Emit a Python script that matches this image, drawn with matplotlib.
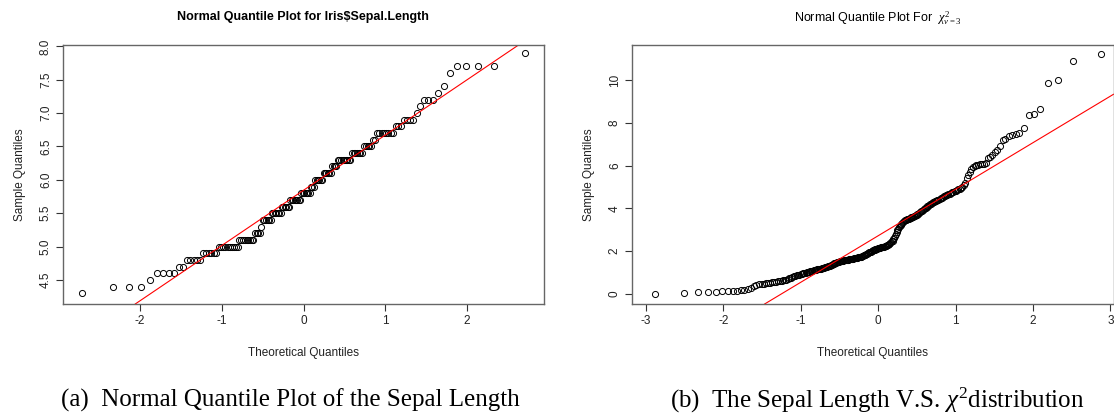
import numpy as np
import matplotlib
matplotlib.use("Agg")
import matplotlib.pyplot as plt
from statistics import NormalDist

# iris Sepal.Length: distinct values and how often each occurs
sepal_values = [4.3, 4.4, 4.5, 4.6, 4.7, 4.8, 4.9, 5.0, 5.1, 5.2, 5.3, 5.4, 5.5, 5.6,
                5.7, 5.8, 5.9, 6.0, 6.1, 6.2, 6.3, 6.4, 6.5, 6.6, 6.7, 6.8, 6.9, 7.0,
                7.1, 7.2, 7.3, 7.4, 7.6, 7.7, 7.9]
sepal_counts = [1, 3, 1, 4, 2, 5, 6, 10, 9, 4, 1, 6, 7, 6,
                8, 7, 3, 6, 6, 4, 9, 7, 5, 2, 8, 3, 4, 1,
                1, 3, 1, 1, 1, 4, 1]

# sorted chi-square sample (n = 250)
chi_sample = [
    0.02, 0.03, 0.07, 0.08, 0.10, 0.12, 0.13, 0.14, 0.16, 0.18,
    0.20, 0.23, 0.30, 0.38, 0.43, 0.45, 0.47, 0.48, 0.50, 0.52,
    0.53, 0.54, 0.56, 0.57, 0.59, 0.60, 0.62, 0.64, 0.65, 0.67,
    0.70, 0.73, 0.76, 0.79, 0.82, 0.85, 0.87, 0.89, 0.91, 0.93,
    0.95, 0.96, 0.98, 0.99, 1.01, 1.03, 1.05, 1.06, 1.08, 1.09,
    1.10, 1.12, 1.13, 1.15, 1.16, 1.17, 1.18, 1.19, 1.20, 1.21,
    1.22, 1.24, 1.25, 1.27, 1.29, 1.31, 1.33, 1.35, 1.37, 1.39,
    1.41, 1.43, 1.44, 1.46, 1.48, 1.49, 1.50, 1.52, 1.53, 1.54,
    1.55, 1.56, 1.57, 1.58, 1.59, 1.60, 1.61, 1.61, 1.62, 1.62,
    1.63, 1.64, 1.64, 1.65, 1.66, 1.67, 1.68, 1.69, 1.70, 1.71,
    1.72, 1.73, 1.74, 1.75, 1.76, 1.78, 1.80, 1.82, 1.84, 1.86,
    1.88, 1.90, 1.92, 1.94, 1.96, 1.98, 2.00, 2.02, 2.04, 2.06,
    2.08, 2.09, 2.11, 2.12, 2.14, 2.15, 2.16, 2.17, 2.18, 2.19,
    2.20, 2.21, 2.22, 2.23, 2.24, 2.25, 2.27, 2.29, 2.32, 2.35,
    2.38, 2.42, 2.46, 2.50, 2.55, 2.62, 2.70, 2.79, 2.88, 2.98,
    3.06, 3.13, 3.19, 3.24, 3.28, 3.32, 3.36, 3.40, 3.44, 3.46,
    3.48, 3.50, 3.52, 3.53, 3.54, 3.56, 3.58, 3.60, 3.62, 3.64,
    3.66, 3.68, 3.70, 3.73, 3.76, 3.80, 3.83, 3.86, 3.90, 3.93,
    3.96, 4.00, 4.04, 4.07, 4.10, 4.13, 4.17, 4.20, 4.23, 4.27,
    4.29, 4.32, 4.34, 4.37, 4.39, 4.42, 4.45, 4.48, 4.51, 4.54,
    4.57, 4.60, 4.62, 4.65, 4.68, 4.70, 4.73, 4.76, 4.78, 4.81,
    4.84, 4.87, 4.90, 4.93, 4.97, 5.02, 5.08, 5.20, 5.42, 5.55,
    5.72, 5.85, 5.95, 6.00, 6.02, 6.05, 6.06, 6.07, 6.08, 6.12,
    6.35, 6.42, 6.52, 6.62, 6.75, 6.92, 7.20, 7.27, 7.40, 7.46,
    7.48, 7.53, 7.78, 8.39, 8.40, 8.64, 9.86, 10.03, 10.90, 11.22,
]

left_yticks = [4.5, 5.0, 5.5, 6.0, 6.5, 7.0, 7.5, 8.0]
left_xticks = [-2, -1, 0, 1, 2]
right_yticks = [0, 2, 4, 6, 8, 10]
right_xticks = [-3, -2, -1, 0, 1, 2, 3]

plt.rcParams["font.family"] = ["Liberation Sans", "DejaVu Sans"]
plt.rcParams["axes.unicode_minus"] = False
plt.rcParams["mathtext.fontset"] = "custom"
plt.rcParams["mathtext.rm"] = "Liberation Serif"
plt.rcParams["mathtext.it"] = "Liberation Serif:italic"

W, H = 1114, 420
fig = plt.figure(figsize=(W / 100, H / 100), dpi=100)


def px_axes(left, right, top, bottom):
    return fig.add_axes([left / W, 1 - bottom / H, (right - left) / W, (bottom - top) / H])


def qq(ax, values, line="quartile"):
    y = np.sort(np.asarray(values, dtype=float))
    n = len(y)
    a = 3 / 8 if n <= 10 else 0.5
    p = (np.arange(1, n + 1) - a) / (n + 1 - 2 * a)
    nd = NormalDist()
    x = np.array([nd.inv_cdf(v) for v in p])
    ax.plot(x, y, linestyle="none", marker="o", markersize=4.4,
            markerfacecolor="none", markeredgecolor="black", markeredgewidth=0.7)
    if line == "meansd":
        # reference line: mean + sd * z
        m, s = y.mean(), y.std(ddof=1)
        ax.axline((0, m), slope=s, color="red", linewidth=0.8)
    else:
        q1, q3 = np.quantile(y, [0.25, 0.75])
        x1, x3 = nd.inv_cdf(0.25), nd.inv_cdf(0.75)
        ax.axline((x1, q1), (x3, q3), color="red", linewidth=0.8)


def style(ax, xticks, yticks, fmt):
    for s in ax.spines.values():
        s.set_color("#666666")
        s.set_linewidth(1.0)
    ax.set_xticks(xticks)
    ax.set_yticks(yticks)
    ax.set_yticklabels([fmt.format(v) for v in yticks], rotation=90, va="center")
    ax.tick_params(direction="out", length=5, width=0.8, color="#333333",
                   labelsize=8.5, labelcolor="#222222", pad=3)
    ax.set_xlabel("Theoretical Quantiles", fontsize=8.5, color="#222222", labelpad=14)
    ax.set_ylabel("Sample Quantiles", fontsize=8.5, color="#222222", labelpad=10)


# left panel
ax1 = px_axes(63, 544, 45, 304)
qq(ax1, np.repeat(sepal_values, sepal_counts), line="meansd")
ax1.set_xlim(-2.94, 2.94)
ax1.set_ylim(4.14, 8.02)
style(ax1, left_xticks, left_yticks, "{:.1f}")
fig.text(303 / W, 1 - 17 / H, r"Normal Quantile Plot for Iris\$Sepal.Length",
         ha="center", va="center", fontsize=9, fontweight="bold")

# right panel
ax2 = px_axes(632, 1113.5, 45, 304)
qq(ax2, chi_sample)
ax2.set_xlim(-3.18, 3.04)
ax2.set_ylim(-0.47, 11.65)
style(ax2, right_xticks, right_yticks, "{:g}")
fig.text(878 / W, 1 - 18 / H, r"Normal Quantile Plot For  $\chi^{2}_{\nu=3}$",
         ha="center", va="center", fontsize=9)

# captions
cap = dict(ha="center", va="center", fontsize=18, family="Liberation Serif")
fig.text(290 / W, 1 - 400 / H, "(a)  Normal Quantile Plot of the Sepal Length", **cap)
fig.text(877 / W, 1 - 400 / H, r"(b)  The Sepal Length V.S. $\chi^2$distribution", **cap)

fig.savefig("out.png", dpi=100)
